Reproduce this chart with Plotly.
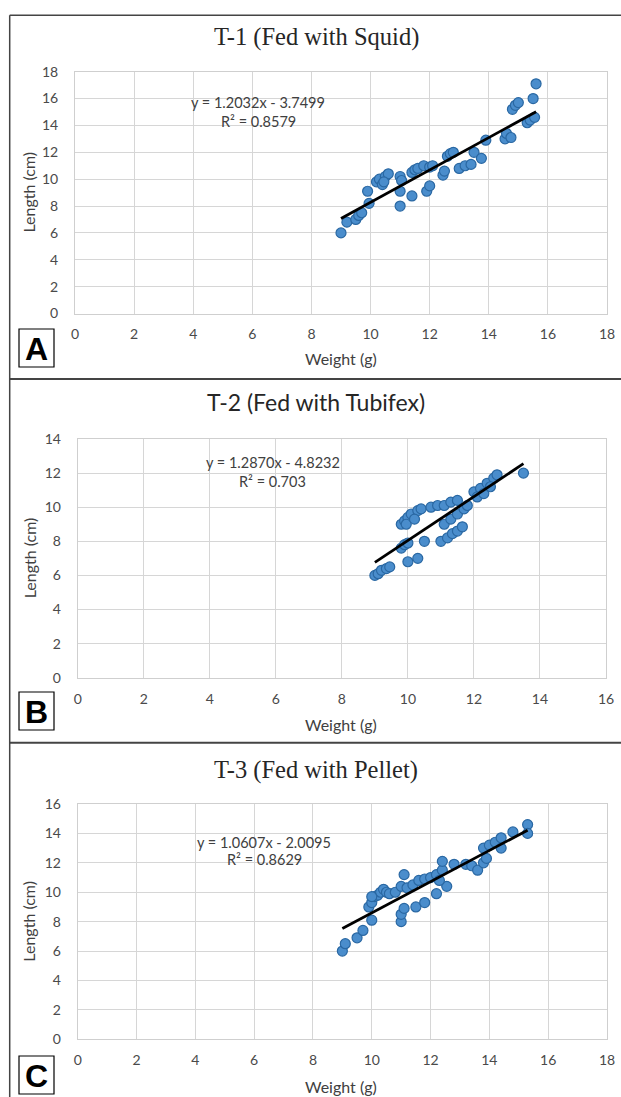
import plotly.graph_objects as go

W, H = 621, 1097

# ---------------- data ----------------
titles = ["T-1 (Fed with Squid)", "T-2 (Fed with Tubifex)", "T-3 (Fed with Pellet)"]
panel_letters = ["A", "B", "C"]
equations = ["y = 1.2032x - 3.7499", "y = 1.2870x - 4.8232", "y = 1.0607x - 2.0095"]
r_squared = ["R² = 0.8579", "R² = 0.703", "R² = 0.8629"]
slopes = [1.2032, 1.2870, 1.0607]
intercepts = [-3.7499, -4.8232, -2.0095]
trend_x_range = [[9.0, 15.6], [9.0, 13.5], [9.0, 15.3]]
x_max = [18, 16, 18]
y_max = [18, 14, 16]

a_weight = [9.0, 9.2, 9.5, 9.6, 9.7, 9.9, 9.95, 10.2, 10.3, 10.4, 10.5, 10.6, 10.45,
            11.0, 11.0, 11.0, 11.05, 11.4, 11.9, 12.0, 11.4, 11.5, 11.6, 11.8, 12.0,
            12.1, 12.45, 12.5, 12.6, 12.7, 12.8, 13.0, 13.2, 13.4, 13.5, 13.75, 13.9,
            14.55, 14.6, 14.75, 14.8, 14.9, 15.0, 15.3, 15.4, 15.55, 15.5, 15.6]
a_length = [6.0, 6.8, 7.0, 7.3, 7.5, 9.1, 8.2, 9.8, 10.0, 9.6, 10.2, 10.4, 9.8,
            10.2, 9.1, 8.0, 9.9, 8.75, 9.1, 9.5, 10.5, 10.7, 10.8, 11.0, 10.9,
            11.0, 10.3, 10.6, 11.7, 11.9, 12.0, 10.8, 11.0, 11.1, 12.0, 11.55, 12.9,
            13.0, 13.4, 13.1, 15.2, 15.5, 15.7, 14.2, 14.4, 14.6, 16.0, 17.1]

b_weight = [9.0, 9.1, 9.2, 9.35, 9.45, 10.0, 10.3, 9.8, 9.9, 10.0, 10.5, 11.0,
            11.2, 11.35, 11.5, 11.65, 9.8, 9.9, 10.0, 10.1, 10.3, 10.4, 9.95, 10.2,
            10.7, 10.9, 11.1, 11.3, 11.5, 11.1, 11.3, 11.5, 11.7, 11.8,
            12.0, 12.2, 12.4, 12.6, 12.7, 12.1, 12.3, 12.5, 13.5]
b_length = [6.0, 6.1, 6.3, 6.4, 6.5, 6.8, 7.0, 7.6, 7.8, 7.9, 8.0, 8.0,
            8.2, 8.45, 8.6, 8.85, 9.0, 9.2, 9.4, 9.6, 9.8, 9.9, 9.0, 9.3,
            10.0, 10.1, 10.1, 10.3, 10.4, 9.0, 9.3, 9.6, 9.9, 10.1,
            10.9, 11.1, 11.4, 11.7, 11.9, 10.6, 10.8, 11.2, 12.0]

c_weight = [9.0, 9.1, 9.5, 9.7, 10.0, 11.0, 11.0, 11.1, 11.1, 11.5, 11.8, 12.2, 12.55,
            9.9, 10.0, 10.1, 10.2, 10.3, 10.4, 10.5, 10.6, 10.0, 10.8, 11.0,
            11.2, 11.4, 11.6, 11.8, 12.0, 12.2, 12.4, 12.3, 12.4, 12.8,
            13.2, 13.4, 13.6, 13.8, 13.9, 13.8, 14.0, 14.2, 14.4, 14.4, 14.8, 15.3, 15.3]
c_length = [6.0, 6.5, 6.9, 7.4, 8.1, 8.0, 8.5, 8.9, 11.2, 9.0, 9.3, 9.9, 10.4,
            9.0, 9.3, 9.7, 9.8, 10.0, 10.2, 10.0, 9.9, 9.7, 10.0, 10.4,
            10.3, 10.5, 10.8, 10.9, 11.0, 11.2, 11.5, 10.8, 12.1, 11.9,
            11.9, 11.8, 11.5, 12.0, 12.3, 13.0, 13.2, 13.4, 13.7, 13.0, 14.1, 14.6, 14.0]

weights = [a_weight, b_weight, c_weight]
lengths = [a_length, b_length, c_length]

# ---------------- layout geometry (pixels) ----------------
plot_px = [  # left, right, top, bottom
    (75, 607, 71.7, 313.5),
    (77.7, 606, 439, 677.7),
    (77.7, 607, 804, 1039.3),
]
title_y = [37, 402, 770]
title_fonts = ["Liberation Serif", "Lato", "Liberation Serif"]
title_sizes = [24.5, 23, 24.5]
xlabel_y = [358, 724, 1086]
box_px = [(19, 54, 329, 367), (19, 54, 692, 730), (19, 54, 1056, 1094)]
eq_pos = [(6.2, 15.7, 14.3), (5.9, 12.65, 11.5), (6.35, 13.4, 12.2)]
sep_y = [15.3, 379, 742.7]
left_x = 9.7


def fx(x):
    return x / W


def fy(y):
    return 1 - y / H


fig = go.Figure()
tick_font = dict(family="Lato", size=14, color="#4a4a4a")
label_font = dict(family="Lato", size=16, color="#404040")
eq_font = dict(family="Lato", size=14.5, color="#404040")
annotations = []
shapes = []

for i in range(3):
    n = "" if i == 0 else str(i + 1)
    xa, ya = "x" + n, "y" + n
    fig.add_trace(go.Scatter(
        x=weights[i], y=lengths[i], mode="markers", xaxis=xa, yaxis=ya,
        marker=dict(size=10, color="#4a8dcc", line=dict(color="#2a68a3", width=1.2)),
        showlegend=False, hoverinfo="skip"))
    tx = trend_x_range[i]
    fig.add_trace(go.Scatter(
        x=tx, y=[slopes[i] * v + intercepts[i] for v in tx], mode="lines",
        xaxis=xa, yaxis=ya, line=dict(color="black", width=2.8),
        showlegend=False, hoverinfo="skip"))

    l, r, t, b = plot_px[i]
    axis_common = dict(showgrid=True, gridcolor="#d6d6d6", gridwidth=1,
                       zeroline=False, showline=True, linecolor="#cfcfcf",
                       linewidth=1, mirror=True, tickfont=tick_font, dtick=2,
                       ticks="", fixedrange=True, automargin=False)
    fig.layout["xaxis" + n] = dict(axis_common, domain=[fx(l), fx(r)],
                                   range=[0, x_max[i]], anchor=ya,
                                   ticklabelstandoff=8)
    fig.layout["yaxis" + n] = dict(axis_common, domain=[fy(b), fy(t)],
                                   range=[0, y_max[i]], anchor=xa,
                                   ticklabelstandoff=13)

    # title
    annotations.append(dict(text=titles[i], x=fx(316), y=fy(title_y[i]),
                            xref="paper", yref="paper", showarrow=False,
                            xanchor="center", yanchor="middle",
                            font=dict(family=title_fonts[i], size=title_sizes[i],
                                      color="#262626")))
    # axis titles
    annotations.append(dict(text="Weight (g)", x=fx(341), y=fy(xlabel_y[i]),
                            xref="paper", yref="paper", showarrow=False,
                            xanchor="center", yanchor="middle", font=label_font))
    annotations.append(dict(text="Length (cm)", x=fx(29), y=fy((t + b) / 2),
                            xref="paper", yref="paper", showarrow=False,
                            textangle=-90, xanchor="center", yanchor="middle",
                            font=label_font))
    # equation
    ex, ey1, ey2 = eq_pos[i]
    annotations.append(dict(text=equations[i], x=ex, y=ey1, xref=xa, yref=ya,
                            showarrow=False, font=eq_font))
    annotations.append(dict(text=r_squared[i], x=ex, y=ey2, xref=xa, yref=ya,
                            showarrow=False, font=eq_font))
    # panel letter box
    bl, br, bt, bb = box_px[i]
    shapes.append(dict(type="rect", xref="paper", yref="paper",
                       x0=fx(bl), x1=fx(br), y0=fy(bb), y1=fy(bt),
                       line=dict(color="black", width=1.2), fillcolor="white"))
    annotations.append(dict(text="<b>" + panel_letters[i] + "</b>",
                            x=fx((bl + br) / 2), y=fy((bt + bb) / 2 + 1),
                            xref="paper", yref="paper", showarrow=False,
                            xanchor="center", yanchor="middle",
                            font=dict(family="Liberation Sans", size=32, color="black")))
    # panel separator line
    shapes.append(dict(type="line", xref="paper", yref="paper",
                       x0=fx(left_x), x1=1, y0=fy(sep_y[i]), y1=fy(sep_y[i]),
                       line=dict(color="#444444", width=2 if i else 1.5)))

shapes.append(dict(type="line", xref="paper", yref="paper",
                   x0=fx(left_x), x1=fx(left_x), y0=0, y1=fy(sep_y[0]),
                   line=dict(color="#444444", width=1.5)))

fig.update_layout(template="none", width=W, height=H,
                  margin=dict(l=0, r=0, t=0, b=0, pad=0, autoexpand=False),
                  paper_bgcolor="white", plot_bgcolor="white", showlegend=False,
                  annotations=annotations, shapes=shapes)

fig.write_html("out.html", config={"displayModeBar": False},
               post_script="document.body.style.margin='0px';"
                           "document.body.style.overflow='hidden';")
